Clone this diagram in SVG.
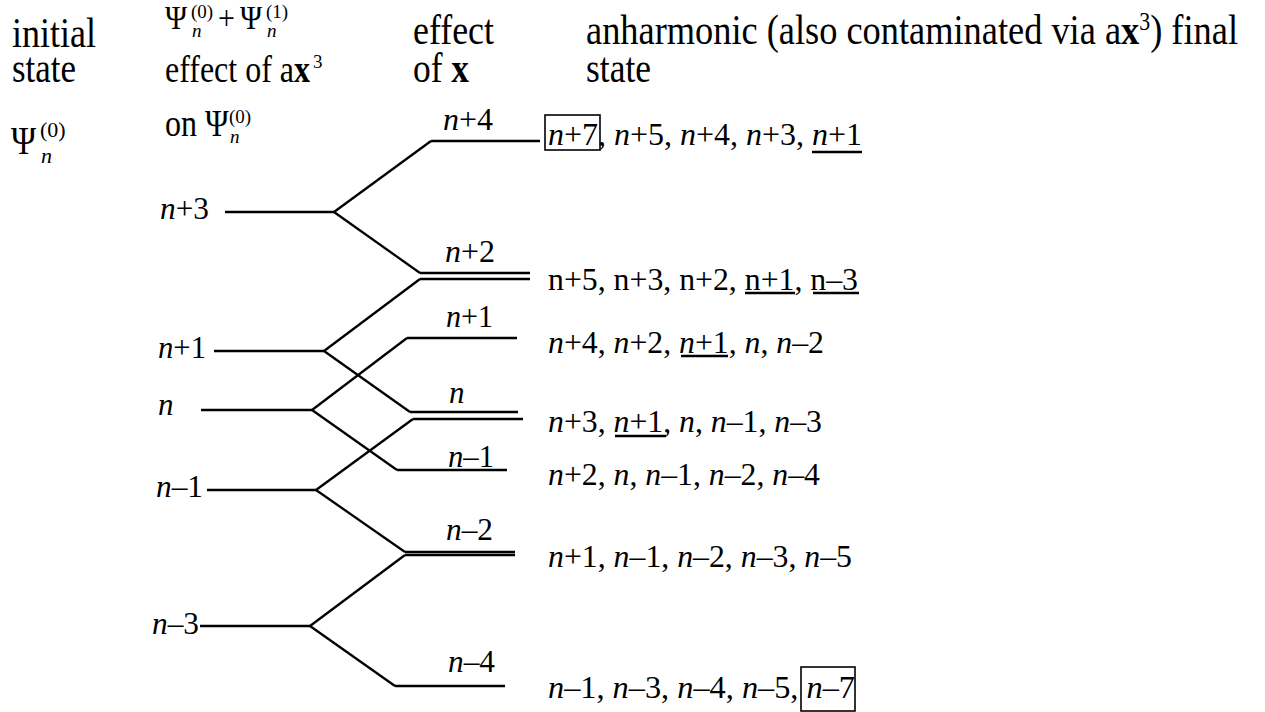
<svg xmlns="http://www.w3.org/2000/svg" width="1265" height="712" viewBox="0 0 1265 712">
<style>
.t{font-family:'Liberation Serif','DejaVu Serif','Times New Roman',serif;fill:#000}
.i{font-style:italic}
.b{font-weight:bold}
.lv{stroke:#000;stroke-width:2.3;fill:none;stroke-linecap:butt}
.ul{stroke:#000;stroke-width:2.3}
.bx{stroke:#000;stroke-width:1.6;fill:none}
.lab{font-size:31px}
.lst{font-size:32px}
.h{font-size:35px}
.hs{font-size:32px}
.sup{font-size:19px}
</style>
<rect width="1265" height="712" fill="#fff"/>

<g id="header" font-family="'Liberation Serif','DejaVu Serif',serif">
  <text class="t h" transform="translate(12,47) scale(1,1.22)" textLength="84" lengthAdjust="spacingAndGlyphs">initial</text>
  <text class="t h" transform="translate(12,82) scale(1,1.22)" textLength="64" lengthAdjust="spacingAndGlyphs">state</text>

  <g id="psi-sum">
    <text class="t" font-size="30" transform="translate(165,29) scale(1,1.15)">Ψ</text>
    <text class="t sup" x="191" y="18">(0)</text>
    <text class="t sup i" x="192" y="37">n</text>
    <text class="t" font-size="30" transform="translate(218,29) scale(1,1.15)">+</text>
    <text class="t" font-size="30" transform="translate(240,29) scale(1,1.15)">Ψ</text>
    <text class="t sup" x="266" y="18">(1)</text>
    <text class="t sup i" x="267" y="37">n</text>
  </g>

  <text class="t hs" transform="translate(165,82) scale(1,1.2)">effect of a<tspan class="b">x</tspan></text>
  <text class="t sup" x="313" y="68">3</text>

  <g id="on-psi">
    <text class="t hs" transform="translate(165,136) scale(1,1.2)">on Ψ</text>
    <text class="t sup" x="229" y="123">(0)</text>
    <text class="t sup i" x="230" y="143">n</text>
  </g>

  <g id="psi-initial">
    <text class="t" font-size="34" transform="translate(11,154) scale(1,1.2)">Ψ</text>
    <text class="t" font-size="22" x="40" y="137">(0)</text>
    <text class="t i" font-size="22" x="41" y="163">n</text>
  </g>

  <text class="t h" transform="translate(413,44) scale(1,1.2)" textLength="81" lengthAdjust="spacingAndGlyphs">effect</text>
  <text class="t h" transform="translate(413,82) scale(1,1.2)" textLength="56" lengthAdjust="spacingAndGlyphs">of <tspan class="b">x</tspan></text>
  <text class="t h" transform="translate(586,44) scale(1,1.2)" textLength="652" lengthAdjust="spacingAndGlyphs">anharmonic (also contaminated via a<tspan class="b">x</tspan><tspan font-size="21" dy="-12">3</tspan><tspan dy="12">) final</tspan></text>
  <text class="t h" transform="translate(586,82) scale(1,1.2)" textLength="65" lengthAdjust="spacingAndGlyphs">state</text>
</g>

<g id="connectors">
  <line class="lv" x1="334" y1="212" x2="431" y2="141"/>
  <line class="lv" x1="334" y1="212" x2="420" y2="273"/>
  <line class="lv" x1="324" y1="351" x2="420" y2="279"/>
  <line class="lv" x1="324" y1="351" x2="410" y2="412"/>
  <line class="lv" x1="312" y1="410" x2="407" y2="338"/>
  <line class="lv" x1="312" y1="410" x2="397" y2="470"/>
  <line class="lv" x1="316" y1="490" x2="413" y2="419"/>
  <line class="lv" x1="316" y1="490" x2="405" y2="552"/>
  <line class="lv" x1="310" y1="626" x2="405" y2="555"/>
  <line class="lv" x1="310" y1="626" x2="395" y2="686"/>
</g>

<g id="init-n+3">
  <line class="lv" x1="225" y1="212" x2="334" y2="212"/>
  <text class="t lab" x="160" y="219" textLength="49" lengthAdjust="spacingAndGlyphs"><tspan class="i">n</tspan>+3</text>
</g>
<g id="init-n+1">
  <line class="lv" x1="214" y1="351" x2="324" y2="351"/>
  <text class="t lab" x="158" y="358" textLength="48" lengthAdjust="spacingAndGlyphs"><tspan class="i">n</tspan>+1</text>
</g>
<g id="init-n">
  <line class="lv" x1="201" y1="410" x2="312" y2="410"/>
  <text class="t lab i" x="158" y="415">n</text>
</g>
<g id="init-n-1">
  <line class="lv" x1="207" y1="490" x2="316" y2="490"/>
  <text class="t lab" x="156" y="497" textLength="47" lengthAdjust="spacingAndGlyphs"><tspan class="i">n</tspan>–1</text>
</g>
<g id="init-n-3">
  <line class="lv" x1="200" y1="626" x2="310" y2="626"/>
  <text class="t lab" x="152" y="634" textLength="47" lengthAdjust="spacingAndGlyphs"><tspan class="i">n</tspan>–3</text>
</g>

<g id="mid-n+4">
  <line class="lv" x1="431" y1="141" x2="540" y2="141"/>
  <text class="t lab" x="443" y="130" textLength="50" lengthAdjust="spacingAndGlyphs"><tspan class="i">n</tspan>+4</text>
</g>
<g id="mid-n+2">
  <line class="lv" x1="420" y1="273" x2="530" y2="273"/>
  <line class="lv" x1="420" y1="279" x2="530" y2="279"/>
  <text class="t lab" x="445" y="262" textLength="50" lengthAdjust="spacingAndGlyphs"><tspan class="i">n</tspan>+2</text>
</g>
<g id="mid-n+1">
  <line class="lv" x1="407" y1="338" x2="517" y2="338"/>
  <text class="t lab" x="446" y="327" textLength="47" lengthAdjust="spacingAndGlyphs"><tspan class="i">n</tspan>+1</text>
</g>
<g id="mid-n">
  <line class="lv" x1="410" y1="412" x2="518" y2="412"/>
  <line class="lv" x1="413" y1="419" x2="523" y2="419"/>
  <text class="t lab i" x="449" y="403">n</text>
</g>
<g id="mid-n-1">
  <line class="lv" x1="397" y1="470" x2="507" y2="470"/>
  <text class="t lab" x="448" y="467" textLength="46" lengthAdjust="spacingAndGlyphs"><tspan class="i">n</tspan>–1</text>
</g>
<g id="mid-n-2">
  <line class="lv" x1="405" y1="552" x2="515" y2="552"/>
  <line class="lv" x1="405" y1="555" x2="515" y2="555"/>
  <text class="t lab" x="446" y="540" textLength="47" lengthAdjust="spacingAndGlyphs"><tspan class="i">n</tspan>–2</text>
</g>
<g id="mid-n-4">
  <line class="lv" x1="395" y1="686" x2="505" y2="686"/>
  <text class="t lab" x="448" y="672" textLength="47" lengthAdjust="spacingAndGlyphs"><tspan class="i">n</tspan>–4</text>
</g>

<g id="final-1">
  <text class="t lst" x="548" y="145" textLength="314" lengthAdjust="spacingAndGlyphs"><tspan class="i">n</tspan>+7, <tspan class="i">n</tspan>+5, <tspan class="i">n</tspan>+4, <tspan class="i">n</tspan>+3, <tspan class="i">n</tspan>+1</text>
  <rect class="bx" x="545" y="115" width="55" height="35"/>
  <line class="ul" x1="812" y1="152" x2="862" y2="152"/>
</g>
<g id="final-2">
  <text class="t lst" x="548" y="290" textLength="310" lengthAdjust="spacingAndGlyphs">n+5, n+3, n+2, n+1, n–3</text>
  <line class="ul" x1="745" y1="293" x2="795" y2="293"/>
  <line class="ul" x1="813" y1="293" x2="859" y2="293"/>
</g>
<g id="final-3">
  <text class="t lst" x="548" y="353" textLength="276" lengthAdjust="spacingAndGlyphs"><tspan class="i">n</tspan>+4, <tspan class="i">n</tspan>+2, <tspan class="i">n</tspan>+1, <tspan class="i">n</tspan>, <tspan class="i">n</tspan>–2</text>
  <line class="ul" x1="681" y1="356" x2="728" y2="356"/>
</g>
<g id="final-4">
  <text class="t lst" x="548" y="432" textLength="274" lengthAdjust="spacingAndGlyphs"><tspan class="i">n</tspan>+3, <tspan class="i">n</tspan>+1, <tspan class="i">n</tspan>, <tspan class="i">n</tspan>–1, <tspan class="i">n</tspan>–3</text>
  <line class="ul" x1="615" y1="436" x2="666" y2="436"/>
</g>
<g id="final-5">
  <text class="t lst" x="548" y="485" textLength="272" lengthAdjust="spacingAndGlyphs"><tspan class="i">n</tspan>+2, <tspan class="i">n</tspan>, <tspan class="i">n</tspan>–1, <tspan class="i">n</tspan>–2, <tspan class="i">n</tspan>–4</text>
</g>
<g id="final-6">
  <text class="t lst" x="548" y="567" textLength="304" lengthAdjust="spacingAndGlyphs"><tspan class="i">n</tspan>+1, <tspan class="i">n</tspan>–1, <tspan class="i">n</tspan>–2, <tspan class="i">n</tspan>–3, <tspan class="i">n</tspan>–5</text>
</g>
<g id="final-7">
  <text class="t lst" x="548" y="698" textLength="307" lengthAdjust="spacingAndGlyphs"><tspan class="i">n</tspan>–1, <tspan class="i">n</tspan>–3, <tspan class="i">n</tspan>–4, <tspan class="i">n</tspan>–5, <tspan class="i">n</tspan>–7</text>
  <rect class="bx" x="801" y="667" width="54" height="44"/>
</g>
</svg>
